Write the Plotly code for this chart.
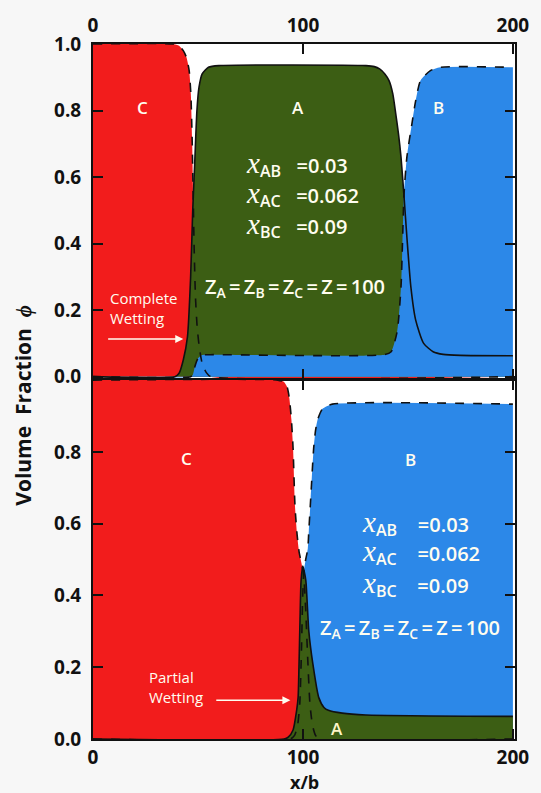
import plotly.graph_objects as go

# ---------------- data: top panel (complete wetting) ----------------
top_x_C = [0, 38, 41, 43, 44.5, 45.8, 46.6, 47.2, 47.7, 48.2, 48.8, 49.6, 50.6, 52, 54, 56, 200]
top_phi_C = [1.0, 1.0, 0.995, 0.98, 0.96, 0.92, 0.85, 0.72, 0.55, 0.38, 0.24, 0.15, 0.09, 0.04, 0.012, 0.0, 0.0]

top_x_A = [0, 39, 41, 43, 45, 46.5, 47.5, 48.5, 49.5, 50.5, 52, 55, 60, 130, 134, 136.5, 139, 141, 142.8, 144.2,
           145.5, 146.7, 148.1, 149.5, 151.4, 153.7, 157.5, 162, 166.8, 175, 200]
top_phi_A = [0, 0, 0.01, 0.05, 0.12, 0.3, 0.5, 0.65, 0.8, 0.87, 0.91, 0.93, 0.935, 0.935, 0.932, 0.925, 0.91,
             0.89, 0.85, 0.79, 0.73, 0.66, 0.545, 0.42, 0.27, 0.17, 0.1, 0.075, 0.067, 0.064, 0.063]

top_x_B = [0, 46.5, 47.5, 48.5, 50, 52, 56, 138.8, 142, 144.9, 146.7, 147.4, 148.1, 149.5, 151.9, 153.7, 156,
           160.7, 165.4, 200]
top_phi_B = [0, 0, 0.005, 0.03, 0.055, 0.065, 0.066, 0.066, 0.075, 0.137, 0.27, 0.4, 0.545, 0.66, 0.76, 0.83,
             0.89, 0.92, 0.93, 0.93]

# ---------------- data: bottom panel (partial wetting) ----------------
bot_x_C = [0, 88, 91, 92.5, 93.5, 94.5, 95.3, 96.2, 97.2, 98.2, 99.3, 100.3, 101.3, 102.3, 103.3, 104.5, 106,
           108, 200]
bot_phi_C = [1.0, 1.0, 0.995, 0.98, 0.95, 0.89, 0.81, 0.65, 0.57, 0.52, 0.49, 0.46, 0.36, 0.22, 0.1, 0.04, 0.01,
             0.0, 0.0]

bot_x_A = [0, 91, 93, 95.3, 97, 97.7, 98.1, 98.6, 99.1, 99.9, 100.5, 101.4, 102.8, 104.7, 107.5, 110, 112.1,
           118.7, 130, 200]
bot_phi_A = [0, 0, 0.005, 0.025, 0.08, 0.116, 0.2, 0.33, 0.44, 0.482, 0.47, 0.44, 0.30, 0.21, 0.116, 0.088,
             0.08, 0.072, 0.067, 0.063]

bot_x_B = [0, 94, 96, 97.5, 98.5, 99.3, 99.9, 100.5, 101.3, 102.3, 102.8, 103.7, 105.1, 106, 107, 109.3, 114, 200]
bot_phi_B = [0, 0, 0.01, 0.04, 0.1, 0.25, 0.4, 0.47, 0.5, 0.53, 0.58, 0.67, 0.81, 0.86, 0.89, 0.92, 0.933, 0.933]

x_ticks = [0, 100, 200]
top_y_ticks = [0.0, 0.2, 0.4, 0.6, 0.8, 1.0]
bot_y_ticks = [0.0, 0.2, 0.4, 0.6, 0.8]

RED = "#f21c1c"
GREEN = "#3c5e14"
BLUE = "#2c88e8"
INK = "#111111"
TXT = "#fffdf0"

fig = go.Figure()


def add_fill(x, y, color, xa, ya):
    fig.add_trace(go.Scatter(x=x, y=y, mode="lines", fill="tozeroy", fillcolor=color,
                             line=dict(width=0, shape="spline", smoothing=0.6, color=color),
                             xaxis=xa, yaxis=ya, showlegend=False, hoverinfo="skip"))


def add_line(x, y, dash, xa, ya):
    fig.add_trace(go.Scatter(x=x, y=y, mode="lines",
                             line=dict(width=1.6, color=INK, dash=dash, shape="spline", smoothing=0.6),
                             xaxis=xa, yaxis=ya, showlegend=False, hoverinfo="skip"))


# top panel: red, green, blue (blue over green)
add_fill(top_x_C, top_phi_C, RED, "x", "y")
add_fill(top_x_A, top_phi_A, GREEN, "x", "y")
add_fill(top_x_B, top_phi_B, BLUE, "x", "y")
add_line(top_x_C, top_phi_C, "dash", "x", "y")
add_line(top_x_A, top_phi_A, "solid", "x", "y")
add_line(top_x_B, top_phi_B, "dash", "x", "y")

# bottom panel: red, blue, green (green over blue)
add_fill(bot_x_C, bot_phi_C, RED, "x2", "y2")
add_fill(bot_x_B, bot_phi_B, BLUE, "x2", "y2")
add_fill(bot_x_A, bot_phi_A, GREEN, "x2", "y2")
add_line(bot_x_C, bot_phi_C, "dash", "x2", "y2")
add_line(bot_x_B, bot_phi_B, "dash", "x2", "y2")
add_line(bot_x_A, bot_phi_A, "solid", "x2", "y2")

tickfont = dict(family="Open Sans", size=19, color=INK, weight="bold")
axis_common = dict(showline=True, linecolor=INK, linewidth=2, mirror="allticks", ticks="inside",
                   ticklen=10, tickwidth=2, tickcolor=INK, showgrid=False, zeroline=False,
                   tickfont=tickfont)

fig.update_layout(
    width=541, height=793,
    margin=dict(l=93, r=18, t=37, b=54),
    paper_bgcolor="#f7f7f7", plot_bgcolor="#ffffff",
    xaxis=dict(domain=[0, 1], anchor="y", range=[0, 201], side="top", tickvals=x_ticks,
               ticktext=[str(v) for v in x_ticks], ticklabelstandoff=2, **axis_common),
    yaxis=dict(domain=[0.5185, 1], anchor="x", range=[-0.006, 1.0], tickvals=top_y_ticks,
               ticktext=[f"{v:.1f}" for v in top_y_ticks], ticklabelstandoff=6, **axis_common),
    xaxis2=dict(domain=[0, 1], anchor="y2", range=[0, 201], side="bottom", tickvals=x_ticks,
                ticktext=[str(v) for v in x_ticks], ticklabelstandoff=0, **axis_common),
    yaxis2=dict(domain=[0, 0.5164], anchor="x2", range=[0, 1.0], tickvals=bot_y_ticks,
                ticktext=[f"{v:.1f}" for v in bot_y_ticks], ticklabelstandoff=6, **axis_common),
)

ann = []


def txt(x, y, t, xr, yr, size=17, xanchor="center", color=TXT, weight=600):
    ann.append(dict(x=x, y=y, xref=xr, yref=yr, text=t, showarrow=False, xanchor=xanchor,
                    yanchor="middle", align="left",
                    font=dict(family="Open Sans", size=size, color=color, weight=weight)))


def chi(sub, val, gap):
    return ("<span style='font-family:Liberation Serif;font-size:29px;font-weight:normal'><i>x</i></span>"
            f"<sub><span style='font-size:16px'>{sub}</span></sub>" + "\u00a0" * gap + "=" + val)


Zline = "Z<sub>A</sub>\u2009=\u2009Z<sub>B</sub>\u2009=\u2009Z<sub>C</sub>\u2009=\u2009Z\u2009=\u2009100"

# top
txt(23.4, 0.81, "C", "x", "y")
txt(97.7, 0.81, "A", "x", "y")
txt(164.5, 0.81, "B", "x", "y")
txt(72, 0.637, chi("AB", "0.03", 3), "x", "y", size=20, xanchor="left")
txt(72, 0.548, chi("AC", "0.062", 3), "x", "y", size=20, xanchor="left")
txt(72, 0.455, chi("BC", "0.09", 3), "x", "y", size=20, xanchor="left")
txt(96.3, 0.268, Zline, "x", "y", size=20)
txt(7.0, 0.205, "Complete<br>Wetting", "x", "y", size=15, xanchor="left", weight=400)
ann.append(dict(x=43, y=0.113, ax=6.5, ay=0.113, xref="x", yref="y", axref="x", ayref="y",
                text="", showarrow=True, arrowhead=2, arrowsize=1, arrowwidth=1.6, arrowcolor=TXT))

# bottom
txt(44.4, 0.781, "C", "x2", "y2")
txt(151.4, 0.778, "B", "x2", "y2")
txt(127.1, 0.601, chi("AB", "0.03", 4), "x2", "y2", size=20, xanchor="left")
txt(127.1, 0.519, chi("AC", "0.062", 4), "x2", "y2", size=20, xanchor="left")
txt(127.1, 0.430, chi("BC", "0.09", 4), "x2", "y2", size=20, xanchor="left")
txt(151, 0.309, Zline, "x2", "y2", size=20)
txt(25.7, 0.146, "Partial<br>Wetting", "x2", "y2", size=15, xanchor="left", weight=400)
ann.append(dict(x=94, y=0.108, ax=58, ay=0.108, xref="x2", yref="y2", axref="x2", ayref="y2",
                text="", showarrow=True, arrowhead=2, arrowsize=1, arrowwidth=1.6, arrowcolor=TXT))
txt(116.4, 0.03, "A", "x2", "y2", size=17, color="#fff6c8")

# axis titles
ann.append(dict(x=-0.165, y=0.48, xref="paper", yref="paper", showarrow=False, textangle=-90,
                text="Volume\u00a0\u00a0Fraction\u00a0\u00a0<span style='font-family:Liberation Serif'><i>ϕ</i></span>",
                font=dict(family="Open Sans", size=21, color=INK, weight="bold"),
                xanchor="center", yanchor="middle"))
ann.append(dict(x=0.5, y=-0.0625, xref="paper", yref="paper", showarrow=False, text="x/b",
                font=dict(family="Open Sans", size=18, color=INK, weight="bold"),
                xanchor="center", yanchor="middle"))

fig.update_layout(annotations=ann)
fig.write_html("out.html")
